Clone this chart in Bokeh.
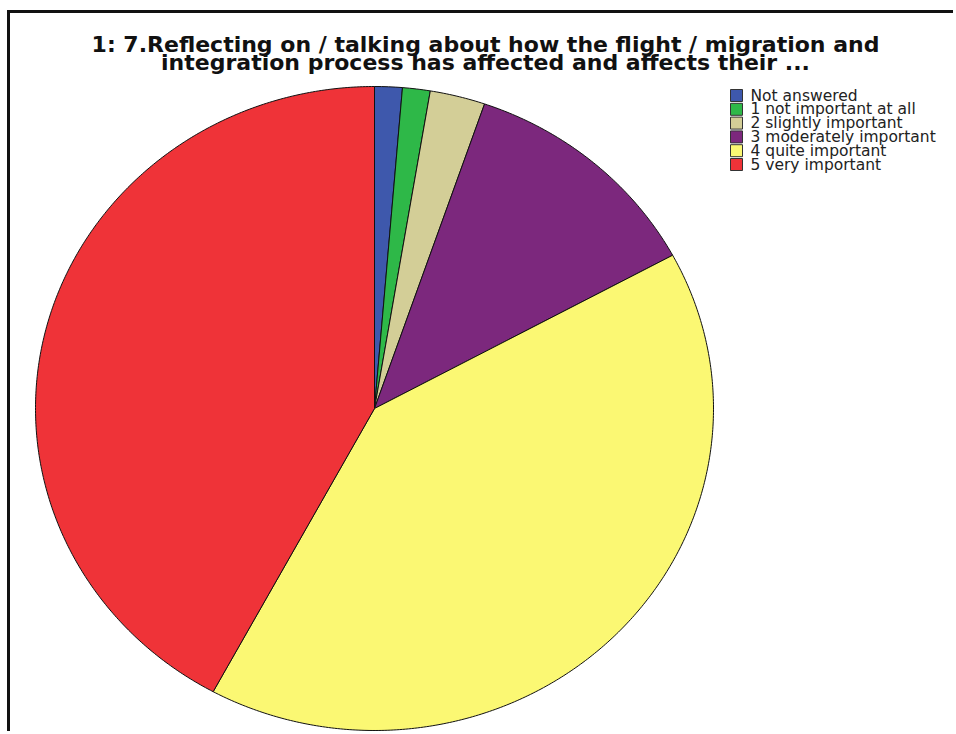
import numpy as np
from bokeh.plotting import figure
from bokeh.models import Range1d, ColumnDataSource
from bokeh.core.properties import value
from bokeh.embed import file_html
from bokeh.resources import INLINE

categories = ["Not answered", "1 not important at all", "2 slightly important",
              "3 moderately important", "4 quite important", "5 very important"]
counts = [1, 1, 2, 9, 31, 32]
colors = ["#3E58AC", "#2EB848", "#D3CE97", "#7C287D", "#FBF873", "#EF3338"]
title_lines = ["1: 7.Reflecting on / talking about how the flight / migration and",
               "integration process has affected and affects their ..."]

# layout (page pixels)
ML, MT = 7, 10           # figure margins
B = 3                    # border thickness
X0, Y0 = ML + B, MT + B  # frame origin on page
W, H = 956 - X0, 734 - Y0
CX, CY, RX, RY = 374, 408, 339, 322   # pie centre and radii


def dx(px):
    return (px - CX) / RX


def dy(py):
    return (CY - py) / RY


p = figure(width=W, height=H, output_backend="svg", toolbar_location=None,
           x_range=Range1d(dx(X0), dx(X0 + W)),
           y_range=Range1d(dy(Y0 + H), dy(Y0)),
           min_border=0, outline_line_color=None)
p.axis.visible = False
p.grid.visible = False
p.styles = {"border-left": "3px solid #111", "border-top": "3px solid #111",
            "margin-left": f"{ML}px", "margin-top": f"{MT}px"}

vals = np.array(counts, dtype=float)
frac = vals / vals.sum()
cum = np.concatenate([[0], np.cumsum(frac)])
xs, ys = [], []
for i in range(len(vals)):
    t = np.linspace(cum[i], cum[i + 1], max(int(frac[i] * 720), 4))
    ang = np.pi / 2 - 2 * np.pi * t
    xs.append([0.0] + list(np.cos(ang)) + [0.0])
    ys.append([0.0] + list(np.sin(ang)) + [0.0])

src = ColumnDataSource(dict(xs=xs, ys=ys, color=colors, label=categories))
p.patches("xs", "ys", source=src, fill_color="color", line_color="#111111",
          line_width=1)

# title
p.text(x=[dx(485), dx(485)], y=[dy(44), dy(62)], text=title_lines,
       text_align="center", text_baseline="alphabetic",
       text_font=value("DejaVu Sans"), text_font_style="bold",
       text_font_size="22px", text_color="#111111")

# legend
n = len(categories)
rows = np.arange(n)
leg_y = [dy(95 + 13.8 * i) for i in rows]
p.rect(x=[dx(736)] * n, y=leg_y, width=12, height=12,
       width_units="screen", height_units="screen",
       fill_color=colors, line_color="#333333", line_width=1)
p.text(x=[dx(750)] * n, y=leg_y, text=categories, text_baseline="middle",
       text_align="left", text_font=value("DejaVu Sans"),
       text_font_size="15.5px", text_color="#222222")

open("out.html", "w").write(file_html(p, INLINE))
